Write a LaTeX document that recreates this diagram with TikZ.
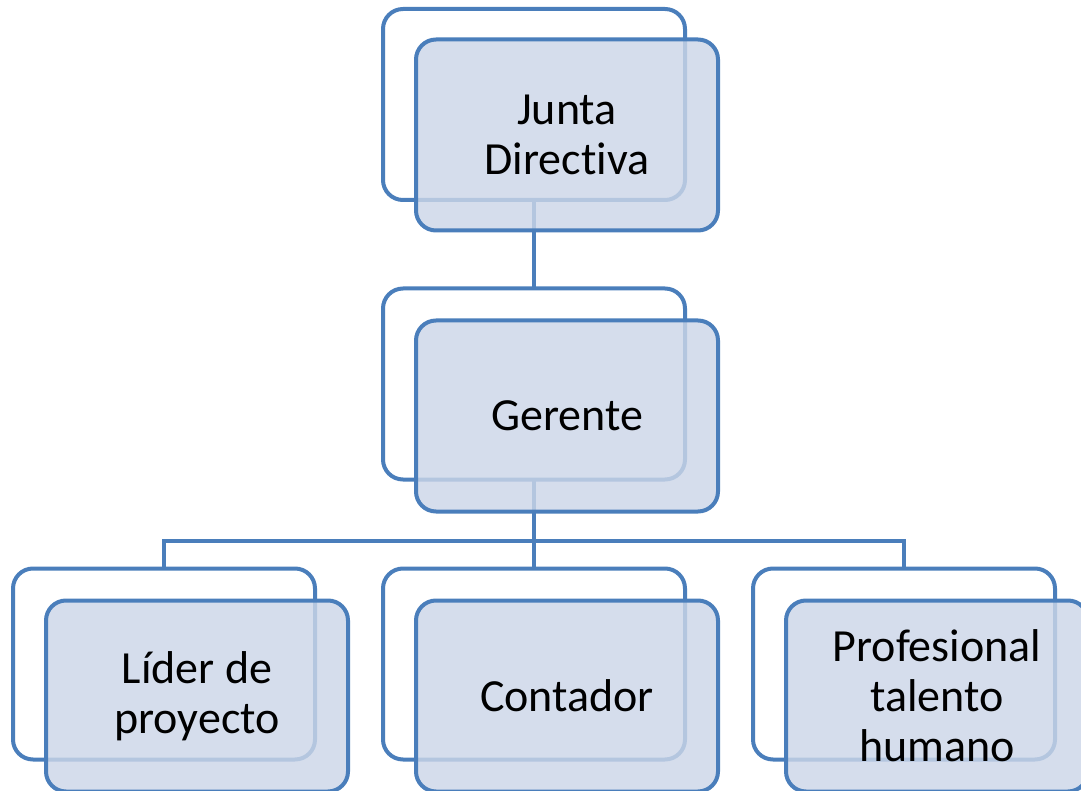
\documentclass[tikz,border=0pt]{standalone}
\usepackage{fontspec}
\setmainfont{Carlito}[RawFeature={-liga;-dlig;-clig}]
\definecolor{bord}{RGB}{74,126,187}
\definecolor{boxfill}{RGB}{204,214,232}
\tikzset{
  backbox/.style={draw=bord, line width=4pt, fill=white, rounded corners=20pt,
    minimum width=302pt, minimum height=191pt, inner sep=0pt, outer sep=0pt},
  frontbox/.style={draw=bord, line width=4pt, fill=boxfill, fill opacity=0.82, text opacity=1,
    rounded corners=20pt, minimum width=302pt, minimum height=191pt, inner sep=0pt, outer sep=0pt,
    align=center, font=\fontsize{46}{50}\selectfont, text=black},
  conn/.style={draw=bord, line width=4pt}
}
\begin{document}
\begin{tikzpicture}[x=1pt,y=-1pt]
\useasboundingbox (0,0) rectangle (1081,791);
\clip (0,0) rectangle (1081,791);
% back boxes
\node[backbox] (jb) at (534,104.5) {};
\node[backbox] (gb) at (534,384) {};
\node[backbox] (lb) at (164,664) {};
\node[backbox] (cb) at (534,664) {};
\node[backbox] (pb) at (904,664) {};
% connectors
\coordinate (bar) at (534,541);
\draw[conn] (jb.south) -- (gb.north);
\draw[conn] (gb.south) -- (bar);
\draw[conn] (bar) -| (lb.north);
\draw[conn] (bar) -| (pb.north);
\draw[conn] (bar) -- (cb.north);
% front boxes
\node[frontbox] (jf) at (567,135) {Junta\\Directiva};
\node[frontbox] (gf) at (567,416) {Gerente};
\node[frontbox] (lf) at (197,696) {Líder de\\proyecto};
\node[frontbox] (cf) at (567,696) {Contador};
\node[frontbox] (pf) at (937,696) {Profesional\\talento\\humano};
\end{tikzpicture}
\end{document}
